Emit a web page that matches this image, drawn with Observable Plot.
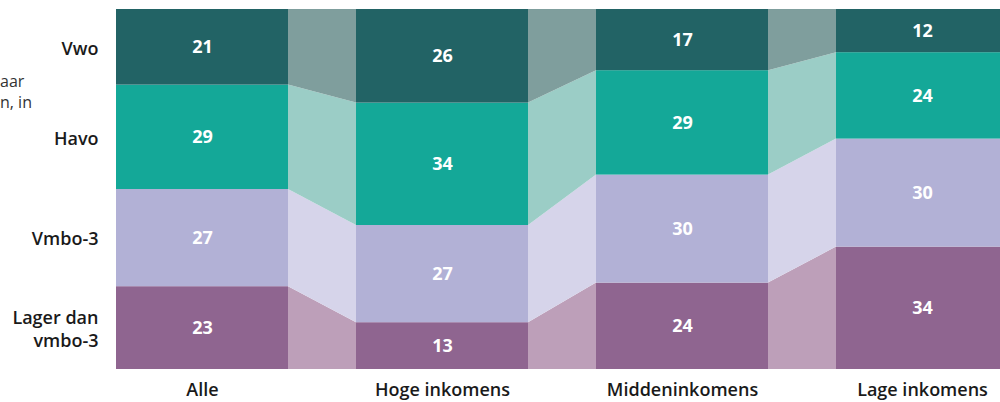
<!DOCTYPE html>
<html>
<head>
<meta charset="utf-8">
<script src="https://cdn.jsdelivr.net/npm/d3@7"></script>
<script src="https://cdn.jsdelivr.net/npm/@observablehq/plot@0.6"></script>
<style>
  html, body { margin: 0; padding: 0; background: #fff; overflow: hidden; }
  #wrap { position: relative; width: 1000px; height: 402px; }
  .frag { position: absolute; left: 0; font-family: "Open Sans", sans-serif; font-size: 16px; color: #333; }
  svg text { font-family: "Open Sans", sans-serif; }
</style>
</head>
<body>
<div id="wrap">
  <div class="frag" style="top:70px">aar</div>
  <div class="frag" style="top:91px">n, in</div>
</div>
<script>
// Data (percentages, bottom-to-top order of series)
const groups = ["Alle", "Hoge inkomens", "Middeninkomens", "Lage inkomens"];
const series = ["Lager dan vmbo-3", "Vmbo-3", "Havo", "Vwo"];
const lager = [23, 13, 24, 34];
const vmbo3 = [27, 27, 30, 30];
const havo = [29, 34, 29, 24];
const vwo = [21, 26, 17, 12];
const seriesLabels = ["Lager dan\nvmbo-3", "Vmbo-3", "Havo", "Vwo"];

const barColors = ["#8f6590", "#b2b1d6", "#14a898", "#226365"];
const linkColors = ["#bd9fb9", "#d6d4ea", "#9bcdc6", "#7f9e9d"];

const values = [lager, vmbo3, havo, vwo];
const hw = 172 / 240 / 2; // half bar width in index units

// stacked segments
const segs = [];
groups.forEach((g, gi) => {
  let acc = 0;
  series.forEach((s, si) => {
    const v = values[si][gi];
    segs.push({gi, si, y1: acc, y2: acc + v, v});
    acc += v;
  });
});
const seg = (gi, si) => segs.find(d => d.gi === gi && d.si === si);

// connectors between adjacent bars
const links = [];
for (let gi = 0; gi < groups.length - 1; gi++) {
  series.forEach((s, si) => {
    const a = seg(gi, si), b = seg(gi + 1, si);
    links.push({z: `${gi}-${si}`, si, x: gi + hw, y1: a.y1, y2: a.y2});
    links.push({z: `${gi}-${si}`, si, x: gi + 1 - hw, y1: b.y1, y2: b.y2});
  });
}

const chart = Plot.plot({
  width: 1000,
  height: 402,
  marginLeft: 116,
  marginRight: 0,
  marginTop: 9,
  marginBottom: 33,
  x: {domain: [-hw, 3.325], axis: null},
  y: {domain: [0, 100], axis: null},
  marks: [
    Plot.areaY(links, {x: "x", y1: "y1", y2: "y2", z: "z", fill: d => linkColors[d.si], curve: "linear"}),
    Plot.rect(segs, {x1: d => d.gi - hw, x2: d => d.gi + hw, y1: "y1", y2: "y2", fill: d => barColors[d.si]}),
    Plot.text(segs, {x: "gi", y: d => (d.y1 + d.y2) / 2, text: d => String(d.v), fill: "white", fontSize: 18, fontWeight: 700}),
    Plot.text(segs.filter(d => d.gi === 0), {x: -hw, y: d => (d.y1 + d.y2) / 2, dx: -18, text: d => seriesLabels[d.si], textAnchor: "end", lineAnchor: "middle", fill: "#1a1a1a", fontSize: 18, fontWeight: 600, lineHeight: 1.25}),
    Plot.text(groups, {x: (d, i) => i, y: 0, dy: 21, text: d => d, fill: "#1a1a1a", fontSize: 18, fontWeight: 600})
  ]
});
document.getElementById("wrap").appendChild(chart);
</script>
</body>
</html>
